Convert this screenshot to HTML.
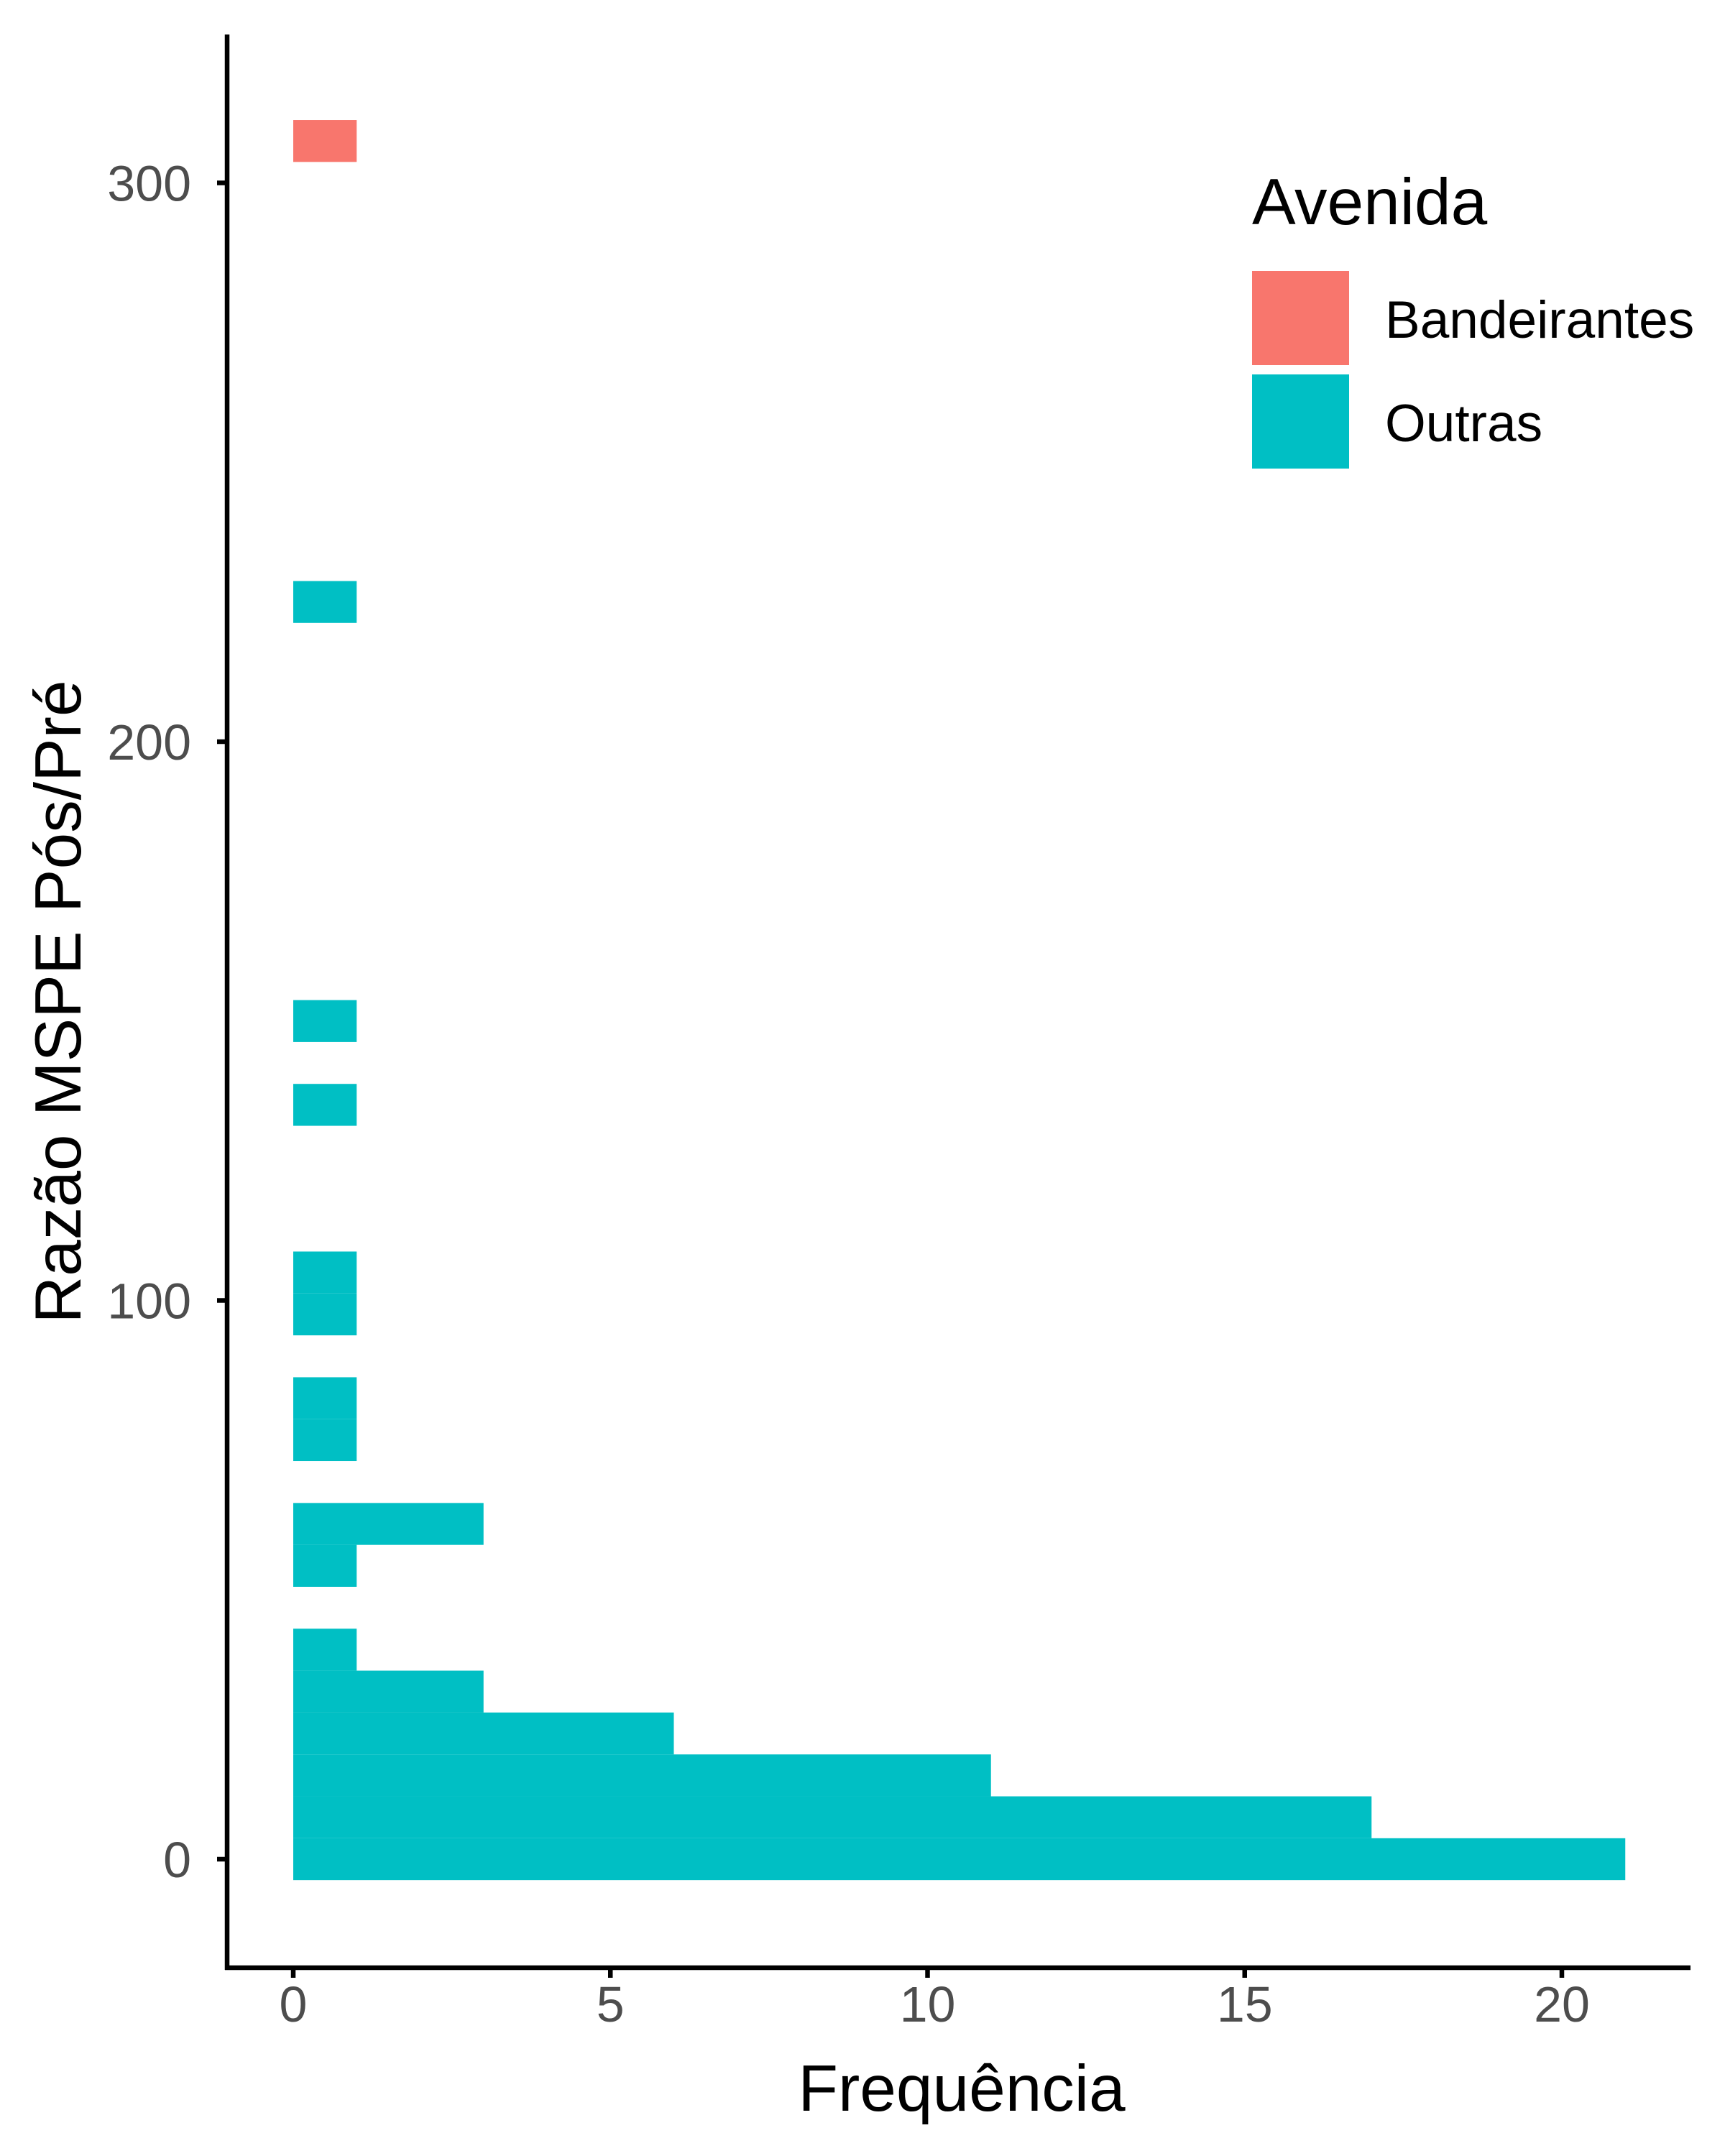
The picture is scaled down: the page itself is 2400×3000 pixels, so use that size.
<!DOCTYPE html>
<html><head><meta charset="utf-8"><style>
html,body{margin:0;padding:0;background:#fff}
svg{display:block;font-family:"Liberation Sans",Arial,sans-serif}
</style></head><body>
<svg id="chart" width="2400" height="3000" viewBox="0 0 2400 3000" xmlns="http://www.w3.org/2000/svg">
<g id="bars"></g>
<g id="axes"></g>
<g>
<text x="1742" y="312" font-size="91" fill="#000">Avenida</text>
<rect x="1742" y="377" width="135" height="131" fill="#F8766D"/>
<text x="1927" y="470" font-size="73" fill="#000">Bandeirantes</text>
<rect x="1742" y="521" width="135" height="131" fill="#00BFC4"/>
<text x="1927" y="614" font-size="73" fill="#000">Outras</text>
</g>
<text x="1338" y="2937" font-size="91" text-anchor="middle" fill="#000">Frequência</text>
<text transform="translate(112,1394) rotate(-90)" font-size="91" text-anchor="middle" fill="#000">Razão MSPE Pós/Pré</text>
</svg>
<script>
const binWidth = 7.5;
const outrasBins = [0,1,2,3,4,5,7,8,10,11,13,14,18,20,30];
const outrasCounts = [21,17,11,6,3,1,1,3,1,1,1,1,1,1,1];
const bandBins = [41];
const bandCounts = [1];
const xTicks = [0,5,10,15,20];
const yTicks = [0,100,200,300];

const X0 = 408, XU = 88.25;
const Y0 = 2587, YU = 7.775;
const xs = v => X0 + v * XU;
const ys = v => Y0 - v * YU;
const NS = "http://www.w3.org/2000/svg";
const bars = document.getElementById('bars');
const axes = document.getElementById('axes');

function drawBars(bins, counts, color, name){
  bins.forEach((b, i) => {
    const c = b * binWidth;
    const r = document.createElementNS(NS, 'rect');
    
    
    const y1 = ys(c + binWidth/2), y2 = ys(c - binWidth/2);
    r.setAttribute('x', xs(0));
    r.setAttribute('y', y1);
    r.setAttribute('width', xs(counts[i]) - xs(0));
    r.setAttribute('height', y2 - y1);
    r.setAttribute('fill', color);
    bars.appendChild(r);
  });
}
drawBars(outrasBins, outrasCounts, '#00BFC4', 'outras');
drawBars(bandBins, bandCounts, '#F8766D', 'bandeirantes');

function line(x1,y1,x2,y2,name){
  const l = document.createElementNS(NS,'line');
  
  
  l.setAttribute('x1',x1);l.setAttribute('y1',y1);l.setAttribute('x2',x2);l.setAttribute('y2',y2);
  l.setAttribute('stroke','#000');l.setAttribute('stroke-width','6.5');
  axes.appendChild(l);
}
line(316,48,316,2741,'y-axis-line');
line(313,2738,2352,2738,'x-axis-line');
xTicks.forEach(t => {
  line(xs(t),2738,xs(t),2752,'x-tick');
  const tx = document.createElementNS(NS,'text');
  
  
  tx.setAttribute('x',xs(t));tx.setAttribute('y',2813);
  tx.setAttribute('font-size','70');tx.setAttribute('text-anchor','middle');tx.setAttribute('fill','#4d4d4d');
  tx.textContent = t;
  axes.appendChild(tx);
});
yTicks.forEach(t => {
  line(302,ys(t),316,ys(t),'y-tick');
  const tx = document.createElementNS(NS,'text');
  
  
  tx.setAttribute('x',266);tx.setAttribute('y',ys(t)+25);
  tx.setAttribute('font-size','70');tx.setAttribute('text-anchor','end');tx.setAttribute('fill','#4d4d4d');
  tx.textContent = t;
  axes.appendChild(tx);
});
</script>
</body></html>
